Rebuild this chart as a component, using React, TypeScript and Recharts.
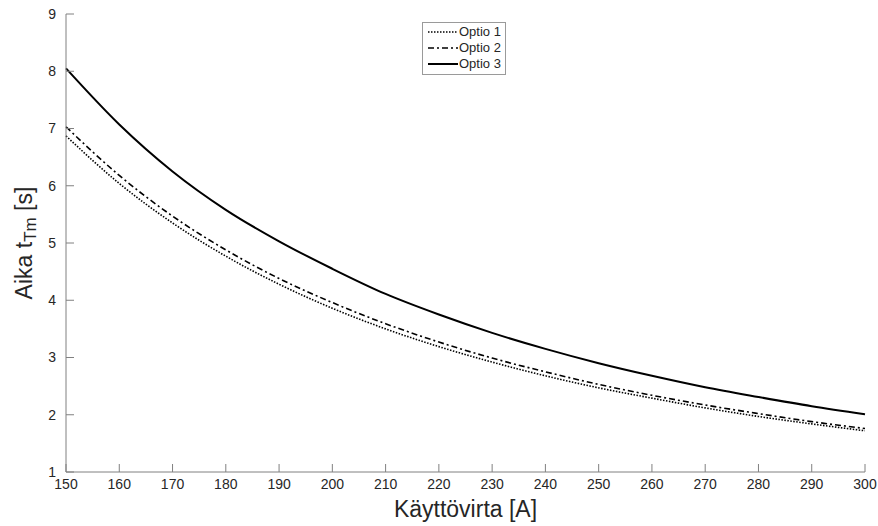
import { LineChart, Line, XAxis, YAxis } from 'recharts';

// virta [A]
const currents = [150, 160, 170, 180, 190, 200, 210, 220, 230, 240, 250, 260, 270, 280, 290, 300];

// aika t_Tm [s] kullekin optiolle
const optio1 = [6.87, 6.04, 5.35, 4.77, 4.28, 3.86, 3.50, 3.19, 2.92, 2.68, 2.47, 2.29, 2.12, 1.97, 1.84, 1.72];
const optio2 = [7.03, 6.18, 5.47, 4.88, 4.38, 3.96, 3.59, 3.27, 2.99, 2.75, 2.53, 2.34, 2.17, 2.02, 1.88, 1.76];
const optio3 = [8.05, 7.07, 6.25, 5.58, 5.03, 4.55, 4.11, 3.75, 3.43, 3.15, 2.90, 2.68, 2.48, 2.31, 2.15, 2.01];

const xTicks = [150, 160, 170, 180, 190, 200, 210, 220, 230, 240, 250, 260, 270, 280, 290, 300];
const yTicks = [1, 2, 3, 4, 5, 6, 7, 8, 9];

const data = currents.map((c, i) => ({
  virta: c,
  o1: optio1[i],
  o2: optio2[i],
  o3: optio3[i],
}));

const FONT = '"Liberation Sans", Arial, Helvetica, sans-serif';
const AXIS = '#808080';
const TEXT = '#262626';

const series = [
  { key: 'o1', name: 'Optio 1', dash: '1.5 1.5', width: 1.6 },
  { key: 'o2', name: 'Optio 2', dash: '6 3 2 3', width: 1.6 },
  { key: 'o3', name: 'Optio 3', dash: undefined, width: 2 },
];

// selite piirretään erikseen, ettei se syö piirtoaluetta
const LegendBox = () => (
  <div
    style={{
      position: 'absolute',
      left: 422,
      top: 22,
      border: '1px solid #9a9a9a',
      background: '#fff',
      padding: '1px 4px 2px 4px',
      fontFamily: FONT,
      fontSize: 13,
      color: TEXT,
      lineHeight: '16px',
    }}
  >
    {series.map((s) => (
      <div key={s.key} style={{ display: 'flex', alignItems: 'center' }}>
        <svg width={32} height={10}>
          <line x1={1} y1={5} x2={31} y2={5} stroke="#000" strokeWidth={s.width} strokeDasharray={s.dash} />
        </svg>
        <span>{s.name}</span>
      </div>
    ))}
  </div>
);

const YLabel = (props: any) => {
  const vb = props.viewBox;
  const cx = 24;
  const cy = vb.y + vb.height / 2;
  return (
    <text
      x={cx}
      y={cy}
      transform={`rotate(-90 ${cx} ${cy})`}
      textAnchor="middle"
      dominantBaseline="central"
      fontFamily={FONT}
      fontSize={23}
      fill={TEXT}
    >
      Aika t
      <tspan dy={6} fontSize={17}>Tm</tspan>
      <tspan dy={-6}> [s]</tspan>
    </text>
  );
};

export default function App() {
  return (
    <div style={{ position: 'absolute', left: 0, top: 0, width: 878, height: 526, background: '#fff' }}>
      <LineChart width={878} height={526} data={data} margin={{ top: 14, right: 13, left: 0, bottom: 0 }}>
        <XAxis
          dataKey="virta"
          type="number"
          domain={[150, 300]}
          ticks={xTicks}
          interval={0}
          height={54}
          stroke={AXIS}
          tickSize={-8}
          tickMargin={15}
          tick={{ fill: TEXT, fontSize: 14, fontFamily: FONT }}
          label={{
            value: 'Käyttövirta [A]',
            position: 'insideBottom',
            offset: 9,
            fill: TEXT,
            fontSize: 23,
            fontFamily: FONT,
          }}
        />
        <YAxis
          type="number"
          domain={[1, 9]}
          ticks={yTicks}
          interval={0}
          width={66}
          stroke={AXIS}
          tickSize={-8}
          tickMargin={18}
          tick={{ fill: TEXT, fontSize: 14, fontFamily: FONT }}
          label={<YLabel />}
        />
        {series.map((s) => (
          <Line
            key={s.key}
            type="monotone"
            dataKey={s.key}
            name={s.name}
            stroke="#000"
            strokeWidth={s.width}
            strokeDasharray={s.dash}
            dot={false}
            activeDot={false}
            isAnimationActive={false}
          />
        ))}
      </LineChart>
      <LegendBox />
    </div>
  );
}
